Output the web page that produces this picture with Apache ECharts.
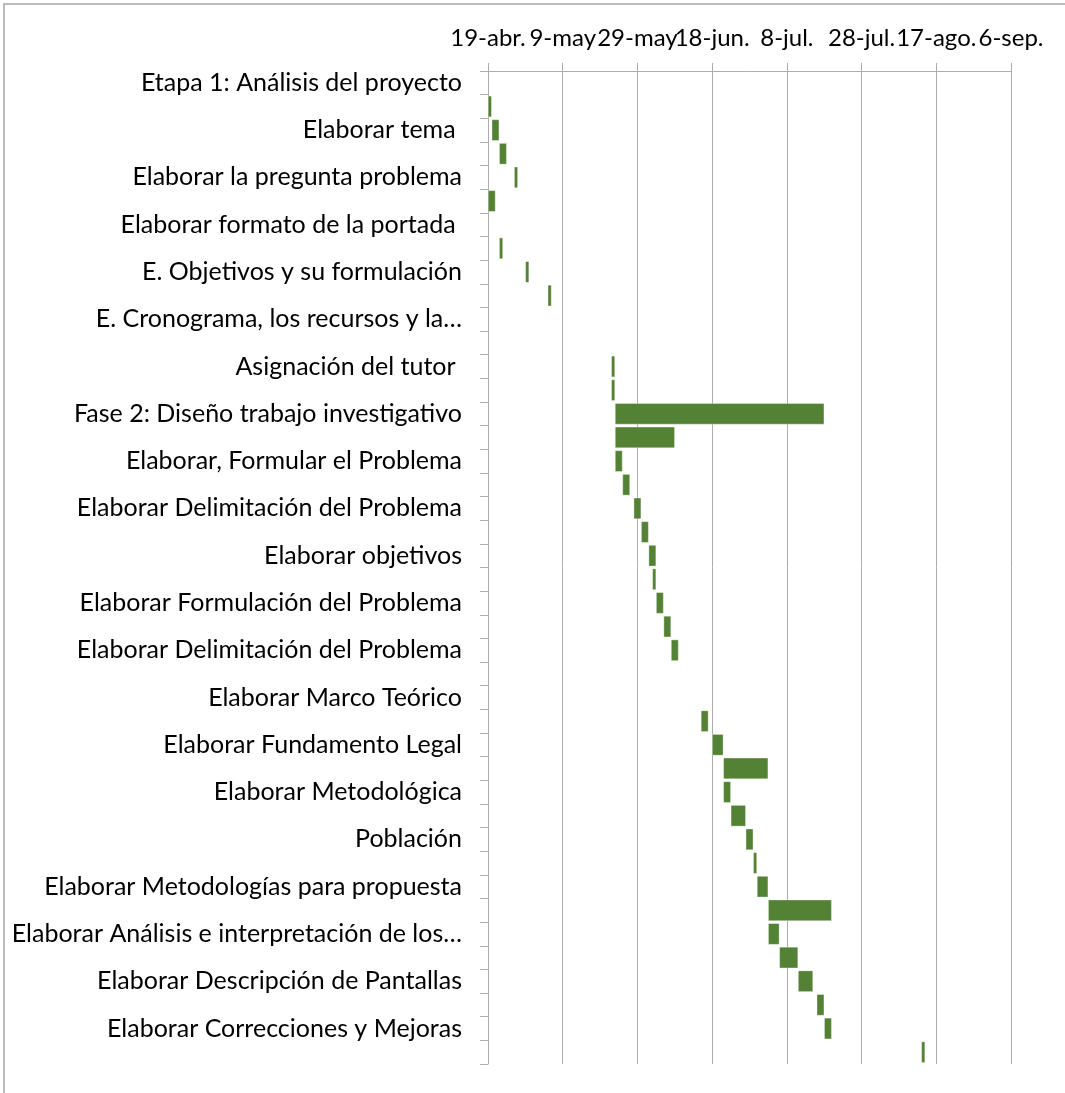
<!DOCTYPE html>
<html>
<head>
<meta charset="utf-8">
<script src="https://cdn.jsdelivr.net/npm/echarts@6/dist/echarts.min.js"></script>
<style>
html,body{margin:0;padding:0;background:#fff;}
#chart{width:1065px;height:1093px;}
</style>
</head>
<body>
<div id="chart"></div>
<script>
// Task names (only every other row is labelled in the source)
var categories = [
  "Etapa 1: Análisis del proyecto", "",
  "Elaborar tema ", "",
  "Elaborar la pregunta problema", "",
  "Elaborar formato de la portada ", "",
  "E. Objetivos y su formulación", "",
  "E. Cronograma, los recursos y la…", "",
  "Asignación del tutor ", "",
  "Fase 2: Diseño trabajo investigativo", "",
  "Elaborar, Formular el Problema", "",
  "Elaborar Delimitación del Problema", "",
  "Elaborar objetivos", "",
  "Elaborar Formulación del Problema", "",
  "Elaborar Delimitación del Problema", "",
  "Elaborar Marco Teórico", "",
  "Elaborar Fundamento Legal", "",
  "Elaborar Metodológica", "",
  "Población", "",
  "Elaborar Metodologías para propuesta", "",
  "Elaborar Análisis e interpretación de los…", "",
  "Elaborar Descripción de Pantallas", "",
  "Elaborar Correcciones y Mejoras", ""
];

// Start dates (null = no bar)
var startDates = [
  null, "2019-04-19",
  "2019-04-20", "2019-04-22",
  "2019-04-26", "2019-04-19",
  null, "2019-04-22",
  "2019-04-29", "2019-05-05",
  null, null,
  "2019-05-22", "2019-05-22",
  "2019-05-23", "2019-05-23",
  "2019-05-23", "2019-05-25",
  "2019-05-28", "2019-05-30",
  "2019-06-01", "2019-06-02",
  "2019-06-03", "2019-06-05",
  "2019-06-07", null,
  null, "2019-06-15",
  "2019-06-18", "2019-06-21",
  "2019-06-21", "2019-06-23",
  "2019-06-27", "2019-06-29",
  "2019-06-30", "2019-07-03",
  "2019-07-03", "2019-07-06",
  "2019-07-11", "2019-07-16",
  "2019-07-18", "2019-08-13"
];

// Durations in days
var durations = [
  null, 1,
  2, 2,
  1, 2,
  null, 1,
  1, 1,
  null, null,
  1, 1,
  56, 16,
  2, 2,
  2, 2,
  2, 1,
  2, 2,
  2, null,
  null, 2,
  3, 12,
  2, 4,
  2, 1,
  3, 17,
  3, 5,
  4, 2,
  2, 1
];

var axisStartDate = "2019-04-19";
var tickLabels = ["19-abr.", "9-may", "29-may", "18-jun.", "8-jul.", "28-jul.", "17-ago.", "6-sep."];

function dayOffset(s) {
  var a = s.split("-"), b = axisStartDate.split("-");
  return Math.round((Date.UTC(+a[0], +a[1] - 1, +a[2]) - Date.UTC(+b[0], +b[1] - 1, +b[2])) / 86400000);
}

var baseData = startDates.map(function (s) { return s === null ? "-" : dayOffset(s); });
var durData = durations.map(function (d) { return d === null ? "-" : d; });

var FONT = "Lato";
var GRID = "#adadad";

var chart = echarts.init(document.getElementById("chart"));
chart.setOption({
  animation: false,
  backgroundColor: "#ffffff",
  graphic: [{
    type: "rect",
    shape: { x: 4, y: 4, width: 1100, height: 1200 },
    style: { fill: "none", stroke: "#a6a6a6", lineWidth: 1.5 },
    silent: true
  }],
  grid: { left: 488, right: 54, top: 71, bottom: 29, containLabel: false },
  xAxis: {
    type: "value",
    position: "top",
    min: 0,
    max: 140,
    interval: 20,
    axisLine: { show: true, lineStyle: { color: GRID, width: 1 } },
    axisTick: { show: true, length: 8, inside: false, lineStyle: { color: GRID } },
    splitLine: { show: true, lineStyle: { color: GRID, width: 1 } },
    axisLabel: {
      margin: 21,
      color: "#000",
      fontFamily: FONT,
      fontSize: 24,
      formatter: function (v) { return tickLabels[Math.round(v / 20)] || ""; }
    }
  },
  yAxis: {
    type: "category",
    inverse: true,
    data: categories,
    axisLine: { show: true, lineStyle: { color: GRID, width: 1 } },
    axisTick: { show: true, length: 8, interval: 0, alignWithLabel: false, lineStyle: { color: GRID } },
    splitLine: { show: false },
    axisLabel: {
      interval: 0,
      margin: 26,
      color: "#000",
      fontFamily: FONT,
      fontSize: 25
    }
  },
  series: [
    {
      type: "bar",
      stack: "gantt",
      silent: true,
      barCategoryGap: "10%",
      itemStyle: { color: "rgba(0,0,0,0)", borderWidth: 0 },
      data: baseData
    },
    {
      type: "bar",
      stack: "gantt",
      barCategoryGap: "10%",
      itemStyle: { color: "#548235", borderColor: "rgba(255,255,255,0.7)", borderWidth: 0.5 },
      data: durData
    }
  ]
});
</script>
</body>
</html>
